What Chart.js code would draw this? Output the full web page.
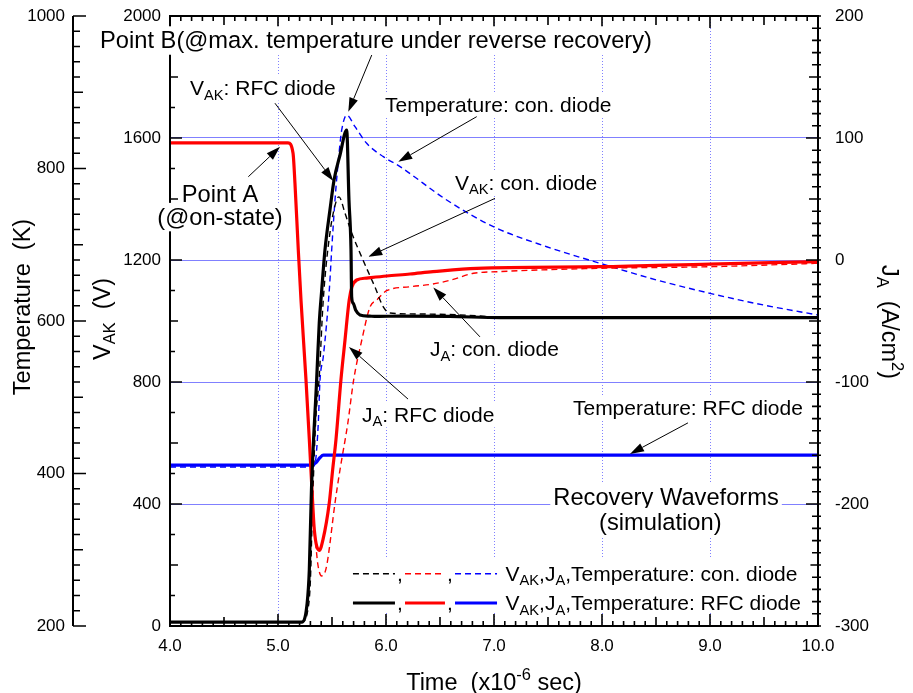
<!DOCTYPE html>
<html>
<head>
<meta charset="utf-8">
<script src="https://cdn.jsdelivr.net/npm/chart.js@4.4.1/dist/chart.umd.min.js"></script>
<style>
  html, body { margin: 0; padding: 0; background: #fff; }
</style>
</head>
<body>
<canvas id="recovery" width="913" height="693"></canvas>
<script>
// tick labels
const timeTicks = [4, 5, 6, 7, 8, 9, 10];
const vakTicks = [0, 400, 800, 1200, 1600, 2000];
const tempTicks = [200, 400, 600, 800, 1000];
const jaTicks = [-300, -200, -100, 0, 100, 200];

// V_AK, RFC diode (solid black)
const vakRfcTime = [4.0, 5.22, 5.27, 5.29, 5.31, 5.358, 5.382, 5.405, 5.435, 5.481, 5.519, 5.574, 5.636, 5.657, 5.676, 5.682, 5.697, 5.72, 5.759, 5.85, 5.914, 6.13, 6.59, 7.06, 8.0, 9.0, 10.0];
const vakRfcValue = [13, 13, 75, 184, 450, 807, 993, 1102, 1233, 1364, 1462, 1544, 1626, 1397, 1233, 1079, 1058, 1035, 1020, 1016, 1015, 1016, 1015, 1011, 1011, 1011, 1011];

// V_AK, con. diode (dashed black)
const vakConTime = [4.0, 5.22, 5.28, 5.30, 5.32, 5.35, 5.38, 5.419, 5.481, 5.543, 5.565, 5.62, 5.682, 5.787, 5.898, 5.975, 6.037, 6.315, 6.685, 7.06, 8.0, 10.0];
const vakConValue = [13, 13, 60, 150, 400, 680, 807, 1069, 1289, 1397, 1407, 1354, 1289, 1200, 1111, 1046, 1026, 1023, 1020, 1013, 1011, 1011];

// J_A, RFC diode (solid red)
const jaRfcTime = [4.0, 5.093, 5.139, 5.157, 5.188, 5.213, 5.259, 5.290, 5.321, 5.336, 5.382, 5.417, 5.475, 5.506, 5.537, 5.583, 5.620, 5.659, 5.685, 5.729, 5.821, 6.006, 6.222, 6.435, 6.840, 7.981, 9.0, 10.0];
const jaRfcValue = [96, 96, 87.7, 63, 8, -33, -98, -147, -199, -221, -238, -229, -199, -172, -147, -98, -66, -33, -22, -16.4, -14.8, -13.1, -11.5, -9.6, -6.8, -5.5, -3.3, -1.4];

// J_A, con. diode (dashed red)
const jaConTime = [4.0, 5.093, 5.139, 5.157, 5.188, 5.213, 5.259, 5.290, 5.321, 5.345, 5.37, 5.403, 5.435, 5.456, 5.528, 5.574, 5.646, 5.701, 5.775, 5.852, 5.914, 6.006, 6.222, 6.435, 6.602, 6.81, 7.03, 7.981, 9.0, 10.0];
const jaConValue = [96, 96, 87.7, 63, 8, -33, -98, -147, -199, -228, -250, -259, -256, -248, -199, -172, -134, -98, -66, -38.5, -32.8, -25.2, -21.9, -19.7, -16.4, -10.9, -9.6, -6.8, -5.5, -2.7];

// Temperature, RFC diode (solid blue)
const tempRfcTime = [4.0, 5.31, 5.35, 5.39, 5.42, 10.0];
const tempRfcValue = [411, 411, 414, 421, 424, 424];

// Temperature, con. diode (dashed blue)
const tempConTime = [4.0, 5.32, 5.338, 5.352, 5.373, 5.389, 5.419, 5.475, 5.497, 5.528, 5.568, 5.590, 5.636, 5.713, 5.821, 5.975, 6.130, 6.562, 6.994, 7.488, 7.981, 8.506, 9.0, 9.494, 10.0];
const tempConValue = [408.5, 408.5, 411, 421.6, 466, 522.6, 552.8, 640.7, 693, 759, 824, 850.5, 870, 854.8, 833, 815.5, 802.4, 758.7, 723.7, 697.4, 675.7, 653.8, 636.3, 621, 607.9];

const FONT = '"Liberation Sans", Arial, sans-serif';
const gridBlue = '#8080ff';

function pairs(xs, ys) {
    return xs.map((x, i) => ({ x: x, y: ys[i] }));
}

// labels placed in (time, V_AK) coordinates
const notes = [
    { parts: [['Point B(@max. temperature under reverse recovery)']], t: 3.352, v: 1894, size: 23.7, align: 'left' },
    { parts: [['V'], ['AK', 'sub'], [': RFC diode']], t: 4.185, v: 1741, size: 21, align: 'left' },
    { parts: [['Temperature: con. diode']], t: 5.991, v: 1686, size: 21, align: 'left' },
    { parts: [['Point A']], t: 4.463, v: 1391, size: 23.7, align: 'center' },
    { parts: [['(@on-state)']], t: 4.463, v: 1315, size: 23.7, align: 'center' },
    { parts: [['V'], ['AK', 'sub'], [': con. diode']], t: 6.639, v: 1430, size: 21, align: 'left' },
    { parts: [['J'], ['A', 'sub'], [': con. diode']], t: 6.407, v: 885, size: 21, align: 'left' },
    { parts: [['J'], ['A', 'sub'], [': RFC diode']], t: 5.778, v: 670, size: 21, align: 'left' },
    { parts: [['Temperature: RFC diode']], t: 7.731, v: 692, size: 21, align: 'left' },
    { parts: [['Recovery Waveforms']], t: 8.593, v: 397, size: 23.7, align: 'center' },
    { parts: [['(simulation)']], t: 8.54, v: 315, size: 23.7, align: 'center' }
];

// arrows: [tStart, vStart, tTip, vTip]
const arrows = [
    [5.868, 1872, 5.651, 1686],
    [4.972, 1714, 5.512, 1459],
    [6.840, 1670, 6.114, 1522],
    [7.009, 1402, 5.836, 1211],
    [6.870, 948, 6.438, 1110],
    [6.204, 744, 5.657, 915],
    [4.725, 1473, 5.019, 1571],
    [8.796, 666, 8.259, 564]
];

const legendRows = [
    { label: [['V'], ['AK', 'sub'], [','], ['J'], ['A', 'sub'], [',Temperature: con. diode']], dashed: true, v: 171.5 },
    { label: [['V'], ['AK', 'sub'], [','], ['J'], ['A', 'sub'], [',Temperature: RFC diode']], dashed: false, v: 75.4 }
];
const legendSegs = [[5.694, 6.083, '#000000'], [6.176, 6.546, '#ff0000'], [6.639, 7.028, '#0000ff']];

function richWidth(ctx, parts, size) {
    let w = 0;
    parts.forEach(p => {
        ctx.font = (p[1] ? size * 0.7 : size) + 'px ' + FONT;
        w += ctx.measureText(p[0]).width;
    });
    return w;
}

function drawRich(ctx, parts, x, y, size, align) {
    const w = richWidth(ctx, parts, size);
    let cx = align === 'center' ? x - w / 2 : x;
    ctx.textAlign = 'left';
    ctx.textBaseline = 'alphabetic';
    ctx.fillStyle = '#000';
    parts.forEach(p => {
        const s = p[1] ? size * 0.7 : size;
        const dy = p[1] === 'sub' ? size * 0.22 : p[1] === 'sup' ? -size * 0.42 : 0;
        ctx.font = s + 'px ' + FONT;
        ctx.fillText(p[0], cx, y + dy);
        cx += ctx.measureText(p[0]).width;
    });
    return w;
}

function arrow(ctx, x0, y0, x1, y1) {
    const ang = Math.atan2(y1 - y0, x1 - x0);
    const len = 14, half = 4.5;
    const bx = x1 - len * Math.cos(ang), by = y1 - len * Math.sin(ang);
    ctx.beginPath();
    ctx.moveTo(x0, y0);
    ctx.lineTo(bx, by);
    ctx.stroke();
    ctx.beginPath();
    ctx.moveTo(x1, y1);
    ctx.lineTo(bx + half * Math.sin(ang), by - half * Math.cos(ang));
    ctx.lineTo(bx - half * Math.sin(ang), by + half * Math.cos(ang));
    ctx.closePath();
    ctx.fill();
}

function drawFrame(chart) {
    const { ctx, chartArea: a, scales } = chart;
    const tx = scales.yT.right;
    ctx.save();
    ctx.setLineDash([]);
    ctx.strokeStyle = '#000000';
    ctx.lineWidth = 1.6;
    ctx.beginPath();
    for (let i = 40; i <= 100; i++) {
        const px = scales.x.getPixelForValue(i / 10);
        const len = i % 10 === 0 ? 12 : i % 5 === 0 ? 9 : 5;
        ctx.moveTo(px, a.bottom); ctx.lineTo(px, a.bottom - len);
        ctx.moveTo(px, a.top); ctx.lineTo(px, a.top + len);
    }
    for (let v = 0; v <= 2000; v += 100) {
        const py = scales.yV.getPixelForValue(v);
        const len = v % 400 === 0 ? 12 : v % 200 === 0 ? 8 : 5;
        ctx.moveTo(a.left, py); ctx.lineTo(a.left + len, py);
    }
    for (let t = 200; t <= 1000; t += 20) {
        const py = scales.yT.getPixelForValue(t);
        const len = t % 200 === 0 ? 13 : t % 100 === 0 ? 10 : 7;
        ctx.moveTo(tx, py); ctx.lineTo(tx + len, py);
    }
    for (let j = -300; j <= 200; j += 10) {
        const py = scales.yJ.getPixelForValue(j);
        const len = j % 100 === 0 ? 12 : j % 50 === 0 ? 9 : 6;
        ctx.moveTo(a.right + 3, py); ctx.lineTo(a.right - len, py);
    }
    ctx.stroke();
    ctx.lineWidth = 2;
    ctx.strokeRect(a.left, a.top, a.right - a.left, a.bottom - a.top);
    ctx.beginPath();
    ctx.moveTo(tx, scales.yT.getPixelForValue(1000));
    ctx.lineTo(tx, scales.yT.getPixelForValue(200));
    ctx.stroke();
    ctx.restore();
}

const overlay = {
    id: 'overlay',
    afterDatasetsDraw(chart) {
        const { ctx, chartArea: a, scales } = chart;
        const X = t => scales.x.getPixelForValue(t);
        const Y = v => scales.yV.getPixelForValue(v);

        drawFrame(chart);
        ctx.save();

        // legend
        const lx0 = X(5.62), lx1 = X(9.93);
        ctx.fillStyle = '#fff';
        ctx.fillRect(lx0, Y(225), lx1 - lx0, Y(45) - Y(225));
        legendRows.forEach(row => {
            const py = Y(row.v);
            legendSegs.forEach((s, k) => {
                ctx.strokeStyle = s[2];
                ctx.lineWidth = row.dashed ? 1.4 : 3.2;
                ctx.setLineDash(row.dashed ? [6, 4] : []);
                ctx.beginPath();
                ctx.moveTo(X(s[0]), py);
                ctx.lineTo(X(s[1]), py);
                ctx.stroke();
                if (k < 2) drawRich(ctx, [[',']], X(s[1]) + 2, py + 7, 21, 'left');
            });
            ctx.setLineDash([]);
            drawRich(ctx, row.label, X(7.106), py + 7, 21, 'left');
        });

        // text labels on white boxes
        notes.forEach(n => {
            const w = richWidth(ctx, n.parts, n.size);
            const x = n.align === 'center' ? X(n.t) - w / 2 : X(n.t);
            const y = Y(n.v);
            ctx.fillStyle = '#fff';
            ctx.fillRect(x - 3, y - n.size * 0.93, w + 6, n.size * 1.2);
            drawRich(ctx, n.parts, x, y, n.size, 'left');
        });

        // arrows
        ctx.strokeStyle = '#000';
        ctx.fillStyle = '#000';
        ctx.lineWidth = 1;
        arrows.forEach(r => arrow(ctx, X(r[0]), Y(r[1]), X(r[2]), Y(r[3])));

        // axis titles
        ctx.save();
        ctx.translate(29.5, 307);
        ctx.rotate(-Math.PI / 2);
        drawRich(ctx, [['Temperature  (K)']], 0, 0, 23.5, 'center');
        ctx.restore();

        ctx.save();
        ctx.translate(110, 319);
        ctx.rotate(-Math.PI / 2);
        drawRich(ctx, [['V'], ['AK', 'sub'], ['  (V)']], 0, 0, 23.5, 'center');
        ctx.restore();

        ctx.save();
        ctx.translate(882, 322);
        ctx.rotate(Math.PI / 2);
        drawRich(ctx, [['J'], ['A', 'sub'], ['  (A/cm'], ['2', 'sup'], [')']], 0, 0, 23.5, 'center');
        ctx.restore();

        drawRich(ctx, [['Time  (x10'], ['-6', 'sup'], [' sec)']], (a.left + a.right) / 2, 690, 23.5, 'center');
        ctx.restore();
    }
};

const solid = (label, xs, ys, color, axis) => ({
    label: label, data: pairs(xs, ys), yAxisID: axis,
    borderColor: color, borderWidth: 3.2, pointRadius: 0, fill: false,
    cubicInterpolationMode: 'monotone'
});
const dashed = (label, xs, ys, color, axis) => ({
    label: label, data: pairs(xs, ys), yAxisID: axis,
    borderColor: color, borderWidth: 1.4, borderDash: [6, 4], pointRadius: 0, fill: false,
    cubicInterpolationMode: 'monotone'
});

const tickFont = { family: FONT, size: 17 };
// fixed box sizes; drop the label overhang padding so the plot area stays put
const fixWidth = w => s => { s.width = w; s.paddingTop = 0; s.paddingBottom = 0; };

const chart = new Chart(document.getElementById('recovery').getContext('2d'), {
    type: 'line',
    data: {
        datasets: [
            solid('V_AK: RFC diode', vakRfcTime, vakRfcValue, '#000000', 'yV'),
            solid('J_A: RFC diode', jaRfcTime, jaRfcValue, '#ff0000', 'yJ'),
            solid('Temperature: RFC diode', tempRfcTime, tempRfcValue, '#0000ff', 'yT'),
            dashed('V_AK: con. diode', vakConTime, vakConValue, '#000000', 'yV'),
            dashed('J_A: con. diode', jaConTime, jaConValue, '#ff0000', 'yJ'),
            dashed('Temperature: con. diode', tempConTime, tempConValue, '#0000ff', 'yT')
        ]
    },
    options: {
        responsive: false,
        animation: false,
        devicePixelRatio: 1,
        layout: { padding: { top: 16, left: 0, right: 0, bottom: 0 } },
        plugins: { legend: { display: false }, tooltip: { enabled: false } },
        scales: {
            x: {
                type: 'linear', position: 'bottom', min: 4, max: 10,
                afterBuildTicks: s => { s.ticks = timeTicks.map(v => ({ value: v })); },
                afterFit: s => { s.height = 67; s.paddingLeft = 0; s.paddingRight = 0; },
                ticks: { callback: v => v.toFixed(1), font: tickFont, color: '#000', padding: 10, maxRotation: 0, autoSkip: false },
                grid: { color: gridBlue, lineWidth: 1, drawTicks: false },
                border: { display: false, dash: [1, 2] }
            },
            yT: {
                type: 'linear', position: 'left', min: 200, max: 1000, weight: 2,
                afterBuildTicks: s => { s.ticks = tempTicks.map(v => ({ value: v })); },
                afterFit: fixWidth(73),
                ticks: { callback: v => String(v), font: tickFont, color: '#000', padding: 8 },
                grid: { display: false, drawTicks: false },
                border: { display: false }
            },
            yV: {
                type: 'linear', position: 'left', min: 0, max: 2000, weight: 1,
                afterBuildTicks: s => { s.ticks = vakTicks.map(v => ({ value: v })); },
                afterFit: fixWidth(97),
                ticks: { callback: v => String(v), font: tickFont, color: '#000', padding: 9 },
                grid: { color: gridBlue, lineWidth: 1, drawTicks: false },
                border: { display: false }
            },
            yJ: {
                type: 'linear', position: 'right', min: -300, max: 200,
                afterBuildTicks: s => { s.ticks = jaTicks.map(v => ({ value: v })); },
                afterFit: fixWidth(95),
                ticks: { callback: v => String(v), font: tickFont, color: '#000', padding: 17 },
                grid: { display: false, drawTicks: false },
                border: { display: false }
            }
        }
    },
    plugins: [overlay]
});
</script>
</body>
</html>
